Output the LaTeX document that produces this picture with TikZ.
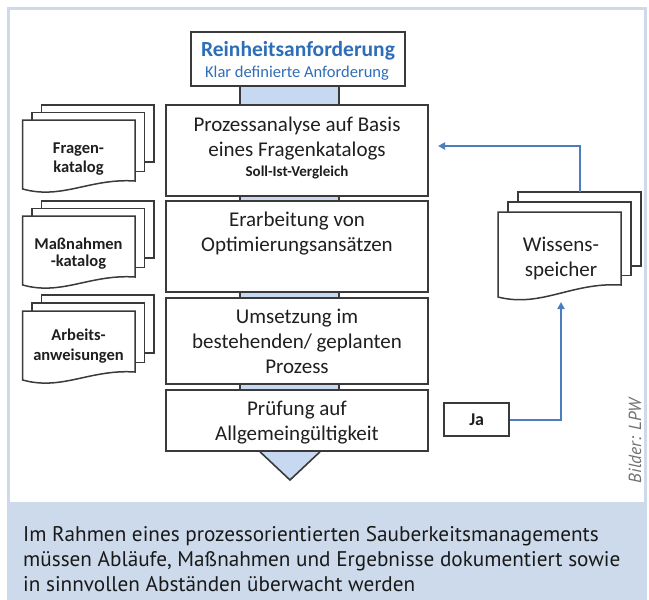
\documentclass[tikz,border=0pt]{standalone}
\usepackage{fontspec}
\setmainfont{Carlito}
\newfontfamily\capfont{PT Sans}
\usetikzlibrary{arrows.meta,backgrounds}
\definecolor{panelblue}{HTML}{CCDAEB}
\definecolor{connblue}{HTML}{C6D9F1}
\definecolor{titleblue}{HTML}{2E6EB8}
\definecolor{arrowblue}{HTML}{4A7EC1}
\definecolor{linegray}{HTML}{3A3A3A}
\definecolor{creditgray}{HTML}{707070}

% x y w h(left) dx dy drop step
\newcommand\docstack[8]{%
  \pgfmathsetmacro\dsR{#1+#3}%
  \pgfmathsetmacro\dsB{#2+#4}%
  \pgfmathsetmacro\dsRB{#2+#4-#7}%
  \foreach \k in {2,1}{%
    \filldraw[docline] ({#1+\k*#5},{#2+\k*#6}) rectangle ({\dsR+\k*#5},{\dsRB-\k*#8});
  }%
  \filldraw[docline] (#1,#2) -- (\dsR,#2) -- (\dsR,\dsRB)
    .. controls ({#1+0.6*#3},{\dsRB-3}) and ({#1+0.35*#3},{\dsB+11}) .. (#1,\dsB) -- cycle;
}

\begin{document}
\begin{tikzpicture}[x=1pt,y=-1pt,
  boxline/.style={draw=linegray, line width=1.6pt},
  procbox/.style={boxline, fill=white, inner sep=0pt},
  docline/.style={draw=linegray, line width=1.5pt, fill=white, line join=miter},
  boxtext/.style={anchor=base, inner sep=0pt, font=\fontsize{21}{25}\selectfont, text=black!88},
  doctext/.style={anchor=base, inner sep=0pt, font=\bfseries\fontsize{16.5}{19}\selectfont, text=black!88},
  captext/.style={anchor=base west, inner sep=0pt, font=\capfont\fontsize{21.2}{26}\selectfont, text=black!90},
  arr/.style={draw=arrowblue, line width=2pt, -{Triangle[length=7pt,width=7pt]}},
]
\useasboundingbox (0,0) rectangle (649,600);

% process boxes
\node[procbox, minimum width=214pt, minimum height=54pt] (top) at (298,59) {};
\node[procbox, minimum width=262pt, minimum height=91pt] (p1) at (297,150.5) {};
\node[procbox, minimum width=262pt, minimum height=91pt] (p2) at (297,246.5) {};
\node[procbox, minimum width=262pt, minimum height=86pt] (p3) at (297,341) {};
\node[procbox, minimum width=262pt, minimum height=61pt] (p4) at (297,420.5) {};

\coordinate (cl) at (240,0);
\coordinate (cr) at (339,0);
\coordinate (tl) at (260,0);
\coordinate (tr) at (320,0);
\coordinate (tip) at (290,480);

\begin{pgfonlayer}{background}
  % panel and caption
  \fill[white] (0,0) rectangle (649,600);
  \draw[panelblue, line width=2.5pt, fill=white] (8.5,8.5) rectangle (645.5,503);
  \fill[panelblue] (7,503) rectangle (647,600);
  % connectors
  \foreach \a/\b in {top/p1,p1/p2,p2/p3,p3/p4}{
    \fill[connblue] (\a.south -| cl) rectangle (\b.north -| cr);
    \draw[boxline] (\a.south -| cl) -- (\b.north -| cl);
    \draw[boxline] (\a.south -| cr) -- (\b.north -| cr);
  }
  \filldraw[boxline, fill=connblue, line join=miter] (p4.south -| tl) -- (tip) -- (p4.south -| tr);
\end{pgfonlayer}

% texts in boxes
\node[anchor=base, inner sep=0pt, font=\bfseries\fontsize{21.5}{24}\selectfont, text=titleblue] (toptitle) at (298,56) {Reinheitsanforderung};
\node[anchor=base, inner sep=0pt, font=\fontsize{16.5}{19}\selectfont, text=titleblue] (topsub) at (297,77.3) {Klar definierte Anforderung};

\node[boxtext] (p1a) at (297,131) {Prozessanalyse auf Basis};
\node[boxtext] (p1b) at (297,156) {eines Fragenkatalogs};
\node[boxtext, font=\bfseries\fontsize{15}{17}\selectfont] (p1c) at (297,176.7) {Soll-Ist-Vergleich};

\node[boxtext] (p2a) at (297,226) {Erarbeitung von};
\node[boxtext] (p2b) at (297,251.7) {Optimierungsansätzen};

\node[boxtext] (p3a) at (297,323) {Umsetzung im};
\node[boxtext] (p3b) at (297,348) {bestehenden/ geplanten};
\node[boxtext] (p3c) at (297,373) {Prozess};

\node[boxtext] (p4a) at (297,415) {Prüfung auf};
\node[boxtext] (p4b) at (297,440) {Allgemeingültigkeit};

% left document stacks
\docstack{22.7}{120}{112.3}{69}{9.5}{-7.5}{8}{9.5}
\docstack{22.7}{216}{112.3}{69}{9.5}{-7.5}{8}{9.5}
\docstack{22.7}{311}{112.3}{69}{9.5}{-8}{8}{9.5}
\node[doctext] (d1a) at (78.5,153) {Fragen-};
\node[doctext] (d1b) at (78.5,172.7) {katalog};
\node[doctext] (d2a) at (78.5,249) {Maßnahmen};
\node[doctext] (d2b) at (78.5,266.7) {-katalog};
\node[doctext] (d3a) at (78.5,340.7) {Arbeits-};
\node[doctext] (d3b) at (78.5,360) {anweisungen};

% Wissensspeicher
\docstack{498}{212}{123}{85}{10}{-10}{12}{9.5}
\node[boxtext] (wsa) at (561,251.7) {Wissens-};
\node[boxtext] (wsb) at (561,276.7) {speicher};
\coordinate (wstop) at (580,192);
\coordinate (wsbot) at (561,302);
\coordinate (fbin) at (438,146);

% Ja box
\node[procbox, minimum width=65pt, minimum height=33pt] (ja) at (476.7,419.5) {};
\node[doctext, font=\bfseries\fontsize{18}{20}\selectfont] (jat) at (476.7,425.5) {Ja};

% arrows
\draw[arr] (wstop) |- (fbin);
\draw[arr] (ja.east) -| (wsbot);

% credit
\node[rotate=90, inner sep=0pt, font=\capfont\itshape\fontsize{17.5}{20}\selectfont, text=creditgray] (credit) at (635,441) {Bilder: LPW};

% caption
\node[captext] (cap1) at (23,541) {Im Rahmen eines prozessorientierten Sauberkeitsmanagements};
\node[captext] (cap2) at (23,566) {müssen Abläufe, Maßnahmen und Ergebnisse dokumentiert sowie};
\node[captext] (cap3) at (23,591) {in sinnvollen Abständen überwacht werden};
\end{tikzpicture}
\end{document}
